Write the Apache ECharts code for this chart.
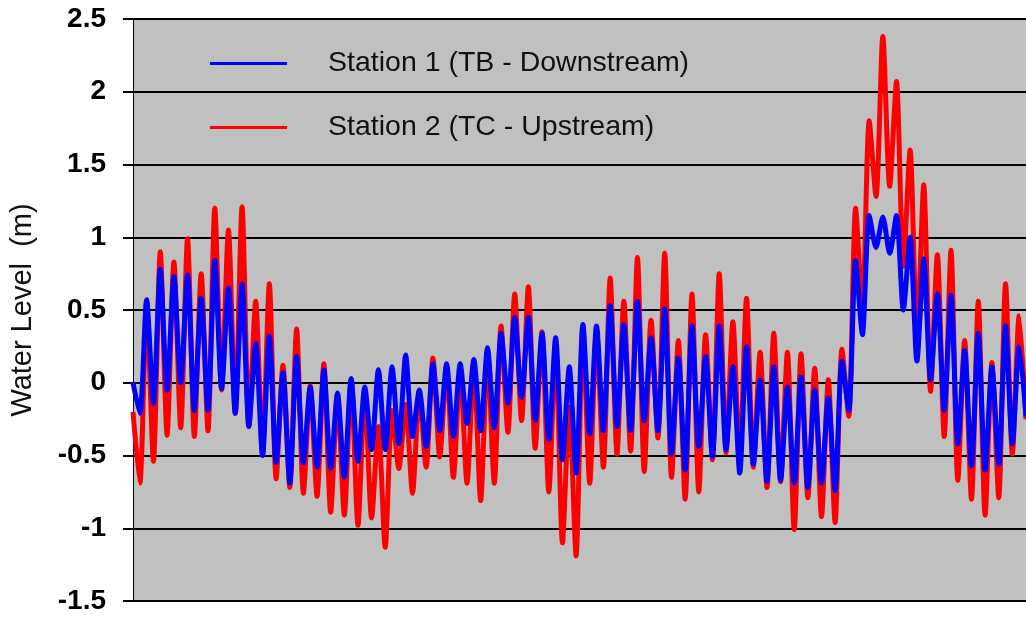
<!DOCTYPE html>
<html>
<head>
<meta charset="utf-8">
<script src="https://cdn.jsdelivr.net/npm/echarts@6/dist/echarts.min.js"></script>
<style>
  html, body { margin: 0; padding: 0; background: #ffffff; }
  #chart { width: 1026px; height: 617px; }
</style>
</head>
<body>
<div id="chart"></div>
<script>
// Successive tidal extremes (high / low water), metres, in time order
const station1Levels = [
  0.00,
  -0.21, 0.57, -0.14, 0.78, -0.05, 0.73, 0.00, 0.74, -0.19, 0.58, -0.19, 0.84, -0.04, 0.65, -0.21, 0.68, -0.30, 0.27, -0.50, 0.32, -0.55, 0.07,
  -0.69, 0.18, -0.55, -0.03, -0.58, 0.09, -0.59, -0.07, -0.65, 0.03, -0.54, -0.03, -0.46, 0.09, -0.46, 0.11, -0.42, 0.19, -0.37, -0.05, -0.44, 0.13,
  -0.33, 0.13, -0.37, 0.13, -0.28, 0.16, -0.33, 0.24, -0.31, 0.34, -0.14, 0.45, -0.10, 0.45, -0.26, 0.34, -0.39, 0.31, -0.53, 0.11, -0.62, 0.40,
  -0.35, 0.39, -0.33, 0.53, -0.30, 0.40, -0.33, 0.56, -0.26, 0.31, -0.33, 0.51, -0.49, 0.17, -0.60, 0.39, -0.44, 0.18, -0.51, 0.39, -0.46, 0.11,
  -0.62, 0.25, -0.56, 0.02, -0.68, 0.11, -0.67, -0.03, -0.69, 0.04, -0.72, -0.05, -0.69, -0.10, -0.74, 0.15, -0.19, 0.84, 0.33, 1.15, 0.93,
  1.14, 0.89, 1.15, 0.50, 1.00, 0.15, 0.85, 0.02, 0.61, -0.19, 0.60, -0.42, 0.22, -0.57, 0.34, -0.60, 0.11, -0.56, 0.39, -0.42, 0.25, -0.23
];

const station2Levels = [
  -0.20,
  -0.69, 0.55, -0.54, 0.90, -0.36, 0.83, -0.31, 0.99, -0.37, 0.75, -0.33, 1.20, -0.05, 1.05, -0.21, 1.21, -0.30, 0.56, -0.49, 0.68, -0.66, 0.12,
  -0.72, 0.37, -0.76, -0.02, -0.78, 0.13, -0.89, -0.08, -0.91, 0.02, -0.98, -0.05, -0.93, -0.30, -1.13, -0.19, -0.59, -0.15, -0.76, -0.07, -0.58, 0.17,
  -0.51, 0.11, -0.65, 0.09, -0.69, 0.13, -0.81, 0.20, -0.69, 0.39, -0.34, 0.61, -0.26, 0.66, -0.45, 0.35, -0.75, 0.27, -1.10, -0.17, -1.19, 0.39,
  -0.69, 0.37, -0.58, 0.72, -0.49, 0.56, -0.47, 0.86, -0.61, 0.43, -0.38, 0.89, -0.65, 0.29, -0.80, 0.61, -0.75, 0.33, -0.53, 0.75, -0.48, 0.42,
  -0.55, 0.58, -0.58, 0.21, -0.72, 0.34, -0.68, 0.21, -1.01, 0.20, -0.79, 0.10, -0.92, 0.02, -0.96, 0.23, -0.23, 1.20, 0.50, 1.80, 1.28,
  2.38, 1.35, 2.07, 0.80, 1.60, 0.29, 1.36, -0.06, 0.88, -0.37, 0.91, -0.67, 0.29, -0.80, 0.56, -0.91, 0.14, -0.79, 0.68, -0.49, 0.46, -0.25
];

const seriesNames = ['Station 1 (TB - Downstream)', 'Station 2 (TC - Upstream)'];
const yAxisTitle = 'Water Level  (m)';

const toPairs = arr => arr.map((v, i) => [i, v]);
const FONT = '"Liberation Sans", Arial, sans-serif';

const chart = echarts.init(document.getElementById('chart'), null, { renderer: 'canvas' });

const legendCommon = {
  orient: 'vertical',
  icon: 'rect',
  padding: 0,
  itemWidth: 77,
  itemHeight: 3,
  selectedMode: false,
  textStyle: {
    fontFamily: FONT,
    fontSize: 28.5,
    color: '#111',
    padding: [0, 0, 0, 36]
  }
};

chart.setOption({
  animation: false,
  backgroundColor: '#ffffff',
  grid: {
    left: 131,
    right: 0,
    top: 19,
    bottom: 16,
    show: true,
    backgroundColor: '#c0c0c0',
    borderWidth: 0
  },
  legend: [
    Object.assign({}, legendCommon, { left: 210, top: 49, data: [seriesNames[0]] }),
    Object.assign({}, legendCommon, { left: 210, top: 113, data: [seriesNames[1]] })
  ],
  xAxis: {
    type: 'value',
    min: 0,
    max: station1Levels.length - 1,
    show: false
  },
  yAxis: {
    type: 'value',
    min: -1.5,
    max: 2.5,
    interval: 0.5,
    name: yAxisTitle,
    nameLocation: 'middle',
    nameRotate: 90,
    nameGap: 96,
    nameTextStyle: {
      fontFamily: FONT,
      fontSize: 29,
      color: '#111'
    },
    axisLine: { show: true, lineStyle: { color: '#000', width: 1 } },
    axisTick: { show: true, length: 10, lineStyle: { color: '#000', width: 2 } },
    splitLine: { show: true, lineStyle: { color: '#000', width: 2 } },
    axisLabel: {
      margin: 27,
      fontFamily: FONT,
      fontSize: 28,
      fontWeight: 'bold',
      color: '#000'
    }
  },
  series: [
    {
      name: seriesNames[1],
      type: 'line',
      data: toPairs(station2Levels),
      showSymbol: false,
      smooth: 0.25,
      color: '#ff0000',
      lineStyle: { color: '#ff0000', width: 5 },
      z: 2
    },
    {
      name: seriesNames[0],
      type: 'line',
      data: toPairs(station1Levels),
      showSymbol: false,
      smooth: 0.25,
      color: '#0000ff',
      lineStyle: { color: '#0000ff', width: 5 },
      z: 3
    }
  ]
});
</script>
</body>
</html>
